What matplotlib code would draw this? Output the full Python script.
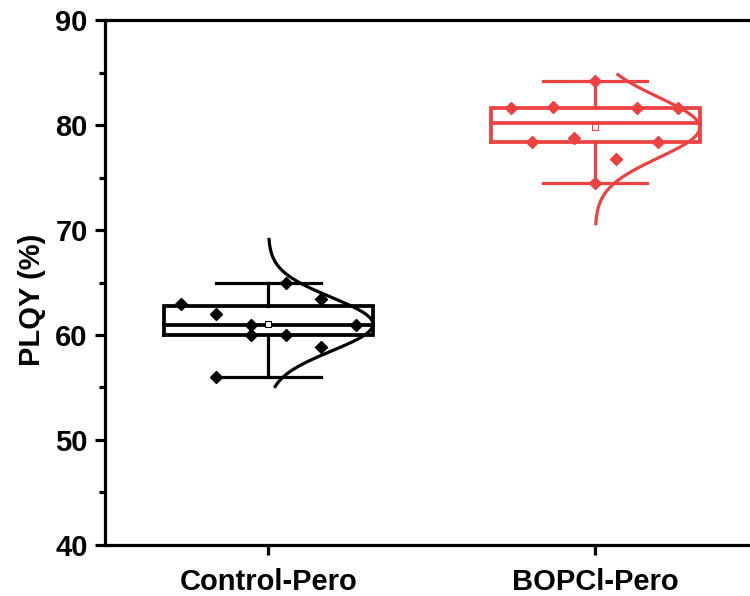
import numpy as np
import matplotlib
matplotlib.use("Agg")
import matplotlib.pyplot as plt
from matplotlib.ticker import MultipleLocator

plt.rcParams['font.family'] = ['Liberation Sans', 'DejaVu Sans']
plt.rcParams['font.weight'] = 'bold'

categories = ["Control-Pero", "BOPCl-Pero"]
control_vals = [63.0, 62.0, 61.0, 61.0, 60.0, 60.0, 65.0, 63.4, 58.9, 56.0]
bopcl_vals = [81.6, 81.75, 81.6, 81.6, 84.2, 78.4, 78.8, 78.4, 76.8, 74.5]
curve_ranges = [(55.1, 69.1), (70.6, 84.8)]
yticks = [40, 50, 60, 70, 80, 90]

# horizontal jitter of the scatter points (x offsets, in category units)
control_offsets = [-0.267, -0.159, -0.053, 0.268, -0.053, 0.054, 0.054, 0.162, 0.162, -0.159]
bopcl_offsets = [-0.257, -0.128, 0.128, 0.255, 0.0, -0.192, -0.064, 0.192, 0.064, 0.0]

colors = ["#000000", "#EE4242"]
series = [control_vals, bopcl_vals]
offsets = [control_offsets, bopcl_offsets]

fig = plt.figure(figsize=(7.5, 5.96), dpi=100)
ax = fig.add_axes([0.14, 0.0856, 0.86, 0.8808])

box_hw = 0.32
cap_hw = 0.16
for i, (vals, offs, col, rng) in enumerate(zip(series, offsets, colors, curve_ranges)):
    xc = i + 1
    v = np.array(vals)
    q1, med, q3 = np.percentile(v, [25, 50, 75])
    mean = v.mean()
    sd = v.std(ddof=1)
    lo, hi = v.min(), v.max()
    # box
    ax.plot([xc - box_hw, xc + box_hw, xc + box_hw, xc - box_hw, xc - box_hw],
            [q1, q1, q3, q3, q1], color=col, lw=2.7, solid_joinstyle='miter', zorder=3)
    ax.plot([xc - box_hw, xc + box_hw], [med, med], color=col, lw=2.7, zorder=3)
    # whiskers
    ax.plot([xc, xc], [q3, hi], color=col, lw=2.3, zorder=3)
    ax.plot([xc, xc], [q1, lo], color=col, lw=2.3, zorder=3)
    ax.plot([xc - cap_hw, xc + cap_hw], [hi, hi], color=col, lw=2.3, zorder=3)
    ax.plot([xc - cap_hw, xc + cap_hw], [lo, lo], color=col, lw=2.3, zorder=3)
    # mean
    ax.plot([xc], [mean], marker='s', ms=5, mfc='white', mec=col, mew=0.8, zorder=5)
    # points
    ax.plot(xc + np.array(offs), v, linestyle='none', marker='D', ms=6,
            color=col, zorder=4)
    # normal curve
    yy = np.linspace(rng[0], rng[1], 200)
    dens = np.exp(-0.5 * ((yy - mean) / sd) ** 2)
    ax.plot(xc + dens * box_hw * 1.0, yy, color=col, lw=2.3, zorder=4)

ax.set_xlim(0.5, 2.474)
ax.set_ylim(40, 90)
ax.set_xticks([1, 2])
ax.set_xticklabels(categories, fontsize=21, fontweight='bold')
ax.set_yticks(yticks)
ax.set_yticklabels([str(t) for t in yticks], fontsize=21, fontweight='bold')
ax.yaxis.set_minor_locator(MultipleLocator(5))
ax.set_ylabel("PLQY (%)", fontsize=21, fontweight='bold')
ax.yaxis.set_label_coords(-0.091, 0.467)

ax.spines['right'].set_visible(False)
for s in ['left', 'bottom', 'top']:
    ax.spines[s].set_linewidth(2.3)
ax.tick_params(axis='both', which='major', direction='out', length=7.5, width=2.3)
ax.tick_params(axis='y', which='major', pad=5)
ax.tick_params(axis='x', which='major', pad=9)
ax.tick_params(axis='y', which='minor', direction='out', length=4, width=2.3)
ax.tick_params(axis='x', which='minor', bottom=False)
for sp in ax.spines.values():
    sp.set_clip_on(False)

fig.savefig("out.png", dpi=100)
